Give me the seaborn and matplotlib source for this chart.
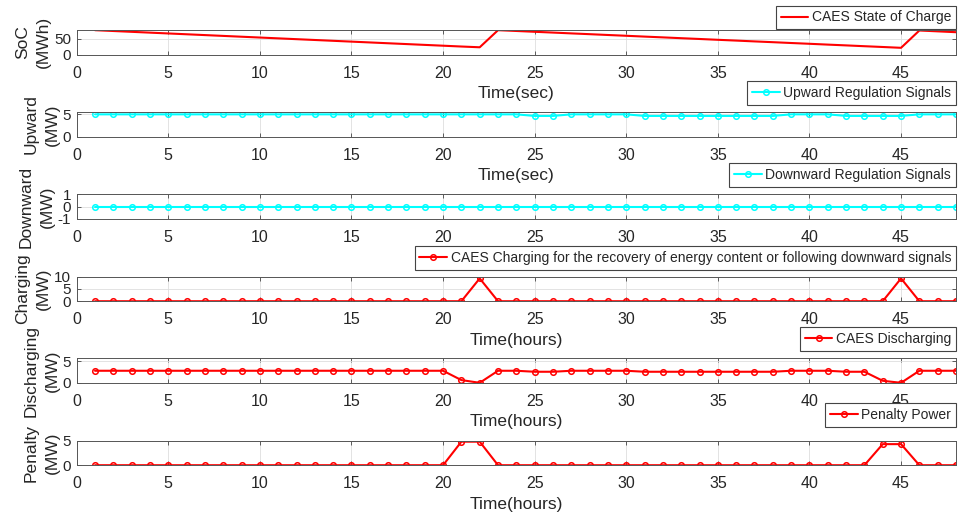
import matplotlib
matplotlib.use('Agg')
import matplotlib.pyplot as plt
import seaborn as sns

# data
hours = [1, 2, 3, 4, 5, 6, 7, 8, 9, 10, 11, 12, 13, 14, 15, 16,
         17, 18, 19, 20, 21, 22, 23, 24, 25, 26, 27, 28, 29, 30, 31, 32,
         33, 34, 35, 36, 37, 38, 39, 40, 41, 42, 43, 44, 45, 46, 47, 48]

soc = [77.4, 74.8, 72.2, 69.6, 67.0, 64.4, 61.8, 59.2, 56.6, 54.0, 51.4, 48.8,
       46.2, 43.6, 41.0, 38.4, 35.8, 33.2, 30.6, 28.0, 25.4, 23.0,
       77.4, 74.9, 72.3, 69.8, 67.2, 64.7, 62.1, 59.6, 57.0, 54.5, 51.9, 49.4,
       46.8, 44.3, 41.7, 39.2, 36.6, 34.1, 31.5, 29.0, 26.4, 23.9, 21.3,
       76.4, 73.7, 71.0]

upward = [4.95, 4.95, 4.95, 4.95, 4.95, 4.95, 4.95, 4.95, 4.95, 4.95, 4.95, 4.95,
          4.95, 4.95, 4.95, 4.95, 4.95, 4.95, 4.95, 4.95, 4.95, 4.95, 4.95, 4.95,
          4.6, 4.6, 4.95, 4.95, 4.95, 4.95, 4.6, 4.6, 4.6, 4.6, 4.6, 4.6,
          4.6, 4.6, 4.95, 4.95, 4.95, 4.6, 4.6, 4.6, 4.6, 4.95, 4.95, 4.95]

downward = [0, 0, 0, 0, 0, 0, 0, 0, 0, 0, 0, 0, 0, 0, 0, 0,
            0, 0, 0, 0, 0, 0, 0, 0, 0, 0, 0, 0, 0, 0, 0, 0,
            0, 0, 0, 0, 0, 0, 0, 0, 0, 0, 0, 0, 0, 0, 0, 0]

charging = [0, 0, 0, 0, 0, 0, 0, 0, 0, 0, 0, 0, 0, 0, 0, 0,
            0, 0, 0, 0, 0, 9.3, 0, 0, 0, 0, 0, 0, 0, 0, 0, 0,
            0, 0, 0, 0, 0, 0, 0, 0, 0, 0, 0, 0, 9.3, 0, 0, 0]

discharging = [2.8, 2.8, 2.8, 2.8, 2.8, 2.8, 2.8, 2.8, 2.8, 2.8, 2.8, 2.8,
               2.8, 2.8, 2.8, 2.8, 2.8, 2.8, 2.8, 2.8, 0.63, 0.0, 2.8, 2.8,
               2.57, 2.57, 2.8, 2.8, 2.8, 2.8, 2.57, 2.57, 2.57, 2.57, 2.57, 2.57,
               2.57, 2.57, 2.8, 2.8, 2.8, 2.57, 2.57, 0.47, 0.0, 2.8, 2.8, 2.8]

penalty = [0, 0, 0, 0, 0, 0, 0, 0, 0, 0, 0, 0, 0, 0, 0, 0,
           0, 0, 0, 0, 4.8, 4.8, 0, 0, 0, 0, 0, 0, 0, 0, 0, 0,
           0, 0, 0, 0, 0, 0, 0, 0, 0, 0, 0, 4.3, 4.3, 0, 0, 0]

x_ticks = [0, 5, 10, 15, 20, 25, 30, 35, 40, 45]

sns.set_style('ticks')
plt.rcParams['font.family'] = ['Liberation Sans', 'DejaVu Sans']
plt.rcParams['axes.unicode_minus'] = False

RED = '#ff0000'
CYAN = '#00ffff'

# (ylabel, values, colour, legend label, ylim, yticks, xlabel, markers)
panels = [
    ('SoC\n(MWh)', soc, RED, 'CAES State of Charge', (0, 78), [0, 50], 'Time(sec)', False),
    ('Upward\n(MW)', upward, CYAN, 'Upward Regulation Signals', (0, 5.4), [0, 5], 'Time(sec)', True),
    ('Downward\n(MW)', downward, CYAN, 'Downward Regulation Signals', (-1, 1), [-1, 0, 1], None, True),
    ('Charging\n(MW)', charging, RED,
     'CAES Charging for the recovery of energy content or following downward signals',
     (0, 10), [0, 5, 10], 'Time(hours)', True),
    ('Discharging\n(MW)', discharging, RED, 'CAES Discharging', (0, 5.7), [0, 5], 'Time(hours)', True),
    ('Penalty\n(MW)', penalty, RED, 'Penalty Power', (0, 5), [0, 5], 'Time(hours)', True),
]

W, H = 958, 518
fig = plt.figure(figsize=(W / 100, H / 100), dpi=100)

left, right = 76.7, 956
tops = [30, 112.3, 194.3, 276.7, 358.3, 440.7]
height = 24.5
legend_bottoms = [29.3, 104.7, 186.7, 270, 350.7, 426.7]

for i, (ylab, vals, col, lab, ylim, yt, xlab, mk) in enumerate(panels):
    ax = fig.add_axes([left / W, 1 - (tops[i] + height) / H, (right - left) / W, height / H])
    if mk:
        sns.lineplot(x=hours, y=vals, ax=ax, color=col, lw=1.5, marker='o', ms=4,
                     mfc='none', mec=col, mew=1.1, label=lab)
    else:
        sns.lineplot(x=hours, y=vals, ax=ax, color=col, lw=1.5, label=lab)
    ax.set_xlim(0, 48)
    ax.set_ylim(*ylim)
    ax.set_xticks(x_ticks)
    ax.set_yticks(yt)
    ax.grid(True, color='#dedede', lw=0.6)
    ax.set_axisbelow(True)
    for s in ax.spines.values():
        s.set_color('#555555')
        s.set_linewidth(0.7)
    ax.tick_params(direction='in', top=True, right=True, length=3, width=0.6,
                   color='#444444', labelsize=11.5, labelcolor='#262626')
    ax.tick_params(axis='x', pad=8)
    ax.tick_params(axis='y', pad=4, labelsize=11)
    ax.set_ylabel(ylab, fontsize=12.5, color='#262626', linespacing=1.55, labelpad=2)
    if xlab:
        ax.set_xlabel(xlab, fontsize=12.5, color='#262626', labelpad=4)
    else:
        ax.set_xlabel('')
    leg = ax.legend(loc='lower right', bbox_to_anchor=(right / W, 1 - legend_bottoms[i] / H),
                    bbox_transform=fig.transFigure, borderaxespad=0, fontsize=10,
                    frameon=True, fancybox=False, framealpha=1, edgecolor='#444444',
                    borderpad=0.35, handlelength=2.0, handletextpad=0.25)
    leg.get_frame().set_linewidth(0.8)

fig.savefig('out.png', dpi=100)
